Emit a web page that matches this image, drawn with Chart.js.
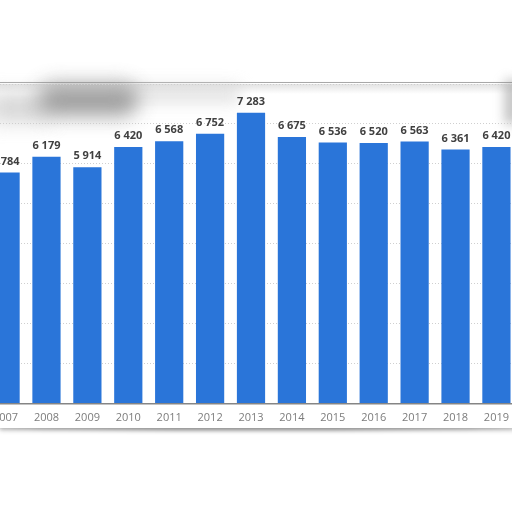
<!DOCTYPE html>
<html>
<head>
<meta charset="utf-8">
<script src="https://cdn.jsdelivr.net/npm/chart.js@4.4.0/dist/chart.umd.min.js"></script>
<style>
  html, body { margin:0; padding:0; background:#fff; width:512px; height:512px; overflow:hidden; position:relative; }
  .card { position:absolute; left:0; top:82px; width:520px; height:345px; background:#fff;
          border-top:1.5px solid #a8a8a8; box-shadow:0 3px 4px rgba(0,0,0,0.18); }
  .topfade { position:absolute; left:0; top:84px; width:520px; height:10px;
          background:linear-gradient(#e2e2e2, rgba(255,255,255,0)); }
  .smear { position:absolute; left:38px; top:84px; width:100px; height:32px; background:#949494;
           filter:blur(10px); opacity:0.9; border-radius:16px; }
  .smear2 { position:absolute; left:-10px; top:94px; width:60px; height:28px; background:#c4c4c4;
           filter:blur(10px); opacity:0.7; }
  .smear3 { position:absolute; left:120px; top:86px; width:120px; height:16px; background:#d4d4d4;
           filter:blur(8px); opacity:0.7; }
  .rshadow { position:absolute; left:505px; top:80px; width:14px; height:44px; background:#8a8a8a;
           filter:blur(6px); opacity:0.55; }
  .bshadow { position:absolute; left:-10px; top:419px; width:530px; height:8px; border-radius:50%;
           box-shadow:0 3px 4px rgba(0,0,0,0.35); background:#fff; }
  canvas { position:absolute; left:-15px; top:0; }
</style>
</head>
<body>
<div class="bshadow"></div>
<div class="card"></div>
<div class="topfade"></div>
<div class="smear2"></div>
<div class="smear3"></div>
<div class="smear"></div>
<div class="rshadow"></div>
<canvas id="c" width="532" height="512" style="width:532px;height:512px"></canvas>
<script>
const years = ["2007","2008","2009","2010","2011","2012","2013","2014","2015","2016","2017","2018","2019"];
const values = [5784, 6179, 5914, 6420, 6568, 6752, 7283, 6675, 6536, 6520, 6563, 6361, 6420];
const yMax = 8000;
const yStep = 1000;

function fmt(v){ return String(v).replace(/\B(?=(\d{3})+(?!\d))/g, " "); }

const valueLabels = {
  id: 'valueLabels',
  afterDatasetsDraw(chart) {
    const ctx = chart.ctx;
    const meta = chart.getDatasetMeta(0);
    ctx.save();
    ctx.font = 'bold 11px "Open Sans", sans-serif';
    ctx.fillStyle = '#404040';
    ctx.textAlign = 'center';
    ctx.textBaseline = 'middle';
    meta.data.forEach((bar, i) => {
      ctx.fillText(fmt(chart.data.datasets[0].data[i]), bar.x, bar.y - 11);
    });
    ctx.restore();
  }
};

new Chart(document.getElementById('c'), {
  type: 'bar',
  data: {
    labels: years,
    datasets: [{ data: values, backgroundColor: '#2a75d9', borderWidth: 0,
                 barPercentage: 0.69, categoryPercentage: 1.0 }]
  },
  options: {
    responsive: false,
    animation: false,
    events: [],
    layout: { padding: { top: 84, left: 0, right: 0, bottom: 78.5 } },
    plugins: { legend: { display: false }, tooltip: { enabled: false } },
    scales: {
      x: {
        grid: { display: false, drawTicks: false },
        border: { display: true, color: '#858585', width: 1.5 },
        ticks: { color: '#7c7c7c', font: { family: '"Open Sans", sans-serif', size: 11 }, padding: 8, maxRotation: 0, autoSkip: false },
        afterFit(s) { s.height = 30; }
      },
      y: {
        min: 0, max: yMax,
        ticks: { display: false, stepSize: yStep },
        grid: { color: '#cfcfcf', drawTicks: false, lineWidth: 1 },
        border: { display: false, dash: [1, 2] },
        afterFit(s) { s.width = 0; }
      }
    }
  },
  plugins: [valueLabels]
});
</script>
</body>
</html>
